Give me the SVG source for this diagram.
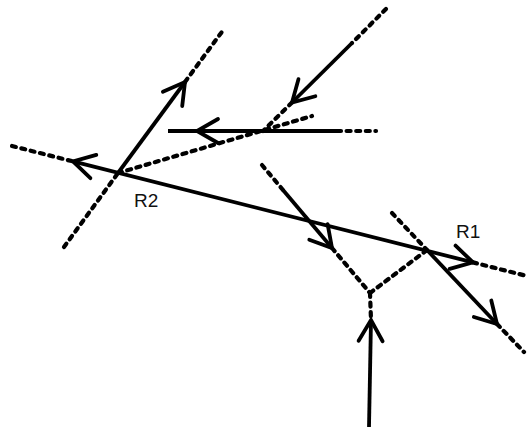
<svg xmlns="http://www.w3.org/2000/svg" width="528" height="430" viewBox="0 0 528 430">
  <style>
    .ray { fill: none; stroke: #000; stroke-width: 3.8; stroke-linecap: butt; }
    .ghost { fill: none; stroke: #000; stroke-width: 4.2; stroke-linecap: round; stroke-dasharray: 4 5.6; }
    .label { font-family: "Liberation Sans", Arial, sans-serif; font-size: 19px; fill: #111; }
  </style>
  <defs>
    <!-- open V arrowhead, tip at the path end -->
    <marker id="vhead" markerUnits="userSpaceOnUse" viewBox="-26 -15 30 30" refX="0" refY="0" markerWidth="30" markerHeight="30" orient="auto-start-reverse">
      <path d="M -21 -12 L 0 0 L -21 12" fill="none" stroke="#000" stroke-width="3.8" stroke-linejoin="miter" stroke-linecap="round"/>
    </marker>
  </defs>

  <g id="connectors">
    <!-- long line through R2 and R1 -->
    <line class="ghost" x1="12" y1="146" x2="73" y2="161.4"/>
    <line class="ray" x1="73" y1="161.4" x2="473" y2="262.4" marker-start="url(#vhead)" marker-end="url(#vhead)"/>
    <line class="ghost" x1="473" y1="262.4" x2="527" y2="276"/>

    <!-- steep line through R2 -->
    <line class="ghost" x1="64" y1="247" x2="118" y2="173"/>
    <line class="ray" x1="118" y1="173" x2="185" y2="82" marker-end="url(#vhead)"/>
    <line class="ghost" x1="185" y1="82" x2="224" y2="29"/>

    <!-- shallow dashed line from R2 -->
    <line class="ghost" x1="118" y1="173" x2="312" y2="116"/>

    <!-- horizontal line -->
    <path class="ray" d="M 337 131 L 197 131 L 168 131" marker-mid="url(#vhead)"/>
    <line class="ghost" x1="337" y1="131" x2="376" y2="131"/>

    <!-- diagonal from the top right -->
    <line class="ghost" x1="386" y1="9" x2="352" y2="43"/>
    <line class="ray" x1="352" y1="43" x2="292" y2="102.5" marker-end="url(#vhead)"/>
    <line class="ghost" x1="292" y1="102.5" x2="263" y2="131"/>

    <!-- middle diagonal down to the lower vertex -->
    <line class="ghost" x1="262" y1="165" x2="283" y2="190"/>
    <line class="ray" x1="283" y1="190" x2="332" y2="248" marker-end="url(#vhead)"/>
    <line class="ghost" x1="332" y1="248" x2="370" y2="293"/>

    <!-- lower vertex to R1 -->
    <line class="ghost" x1="370" y1="293" x2="427" y2="250"/>

    <!-- vertical line from below -->
    <line class="ghost" x1="370" y1="293" x2="371" y2="320"/>
    <line class="ray" x1="369" y1="427" x2="371" y2="320" marker-end="url(#vhead)"/>

    <!-- line through R1 -->
    <line class="ghost" x1="392" y1="213" x2="427" y2="250"/>
    <line class="ray" x1="427" y1="250" x2="497" y2="324" marker-end="url(#vhead)"/>
    <line class="ghost" x1="497" y1="324" x2="524" y2="352"/>
  </g>

  <g id="R2">
    <text class="label" x="134" y="207">R2</text>
  </g>
  <g id="R1">
    <text class="label" x="456" y="238">R1</text>
  </g>
</svg>
